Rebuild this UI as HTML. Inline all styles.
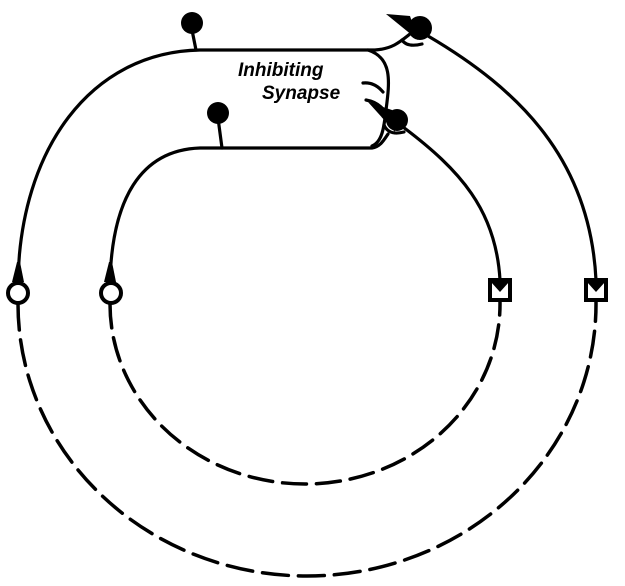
<!DOCTYPE html>
<html><head><style>body{margin:0;background:#fff}svg{display:block}</style></head>
<body>
<svg width="625" height="586" viewBox="0 0 625 586" xmlns="http://www.w3.org/2000/svg">
<g fill="none" stroke="#000" stroke-width="3.2" stroke-linecap="round">
<!-- outer solid -->
<path d="M18 282 C20 150 90 52 200 50 L375 50 C392 49 400 42 410 34"/>
<path d="M428 36 C520 90 590 160 596 280"/>
<!-- bow connector -->
<path d="M368 50 C392 58 390 80 386 110 C384 128 382 142 372 146"/>
<!-- inner solid -->
<path d="M110 282 C112 200 140 150 200 148 L372 148 C380 147 384 140 388 134"/>
<path d="M403 127 C460 170 496 210 500 280"/>
<!-- stems -->
<path d="M192 30 L196 50"/><path d="M218 118 L222 148"/>
<!-- dashed -->
<path d="M18 304 A289 272 0 0 0 307 576 A289 272 0 0 0 596 302" stroke-dasharray="26 10" stroke-width="3.5"/>
<path d="M110 304 A195 180 0 0 0 305 484 A195 180 0 0 0 500 302" stroke-dasharray="24 10" stroke-width="3.5"/>
<!-- synapse hooks -->
<path d="M402 40 C406 46 414 46 422 44"/>
<path d="M384 125 C388 134 396 134 404 132"/>
<path d="M363 83 C372 82 378 86 383 92"/>
<path d="M366 100 C372 101 378 104 382 108"/>
</g>
<g fill="#000">
<circle cx="192" cy="23" r="11"/>
<circle cx="218" cy="113" r="11"/>
<circle cx="420" cy="28" r="12"/>
<path d="M386 14 L410 16 L418 40 Z"/>
<circle cx="397" cy="120" r="11"/>
<path d="M368 102 L392 110 L395 132 Z"/>
<path d="M12 282 L24 282 L20 262 L17 262 Z"/>
<path d="M104 282 L116 282 L112 262 L109 262 Z"/>
</g>
<g stroke="#000" stroke-width="4" fill="#fff">
<circle cx="18" cy="293" r="10"/>
<circle cx="111" cy="293" r="10"/>
<rect x="490" y="280" width="20" height="20"/>
<rect x="586" y="280" width="20" height="20"/>
</g>
<path d="M491 282 L509 282 L500 292 Z M587 282 L605 282 L596 292 Z" fill="#000"/>
<text x="238" y="76" font-family="Liberation Sans, sans-serif" font-style="italic" font-weight="bold" font-size="19">Inhibiting</text>
<text x="262" y="99" font-family="Liberation Sans, sans-serif" font-style="italic" font-weight="bold" font-size="19">Synapse</text>
</svg>
</body></html>
